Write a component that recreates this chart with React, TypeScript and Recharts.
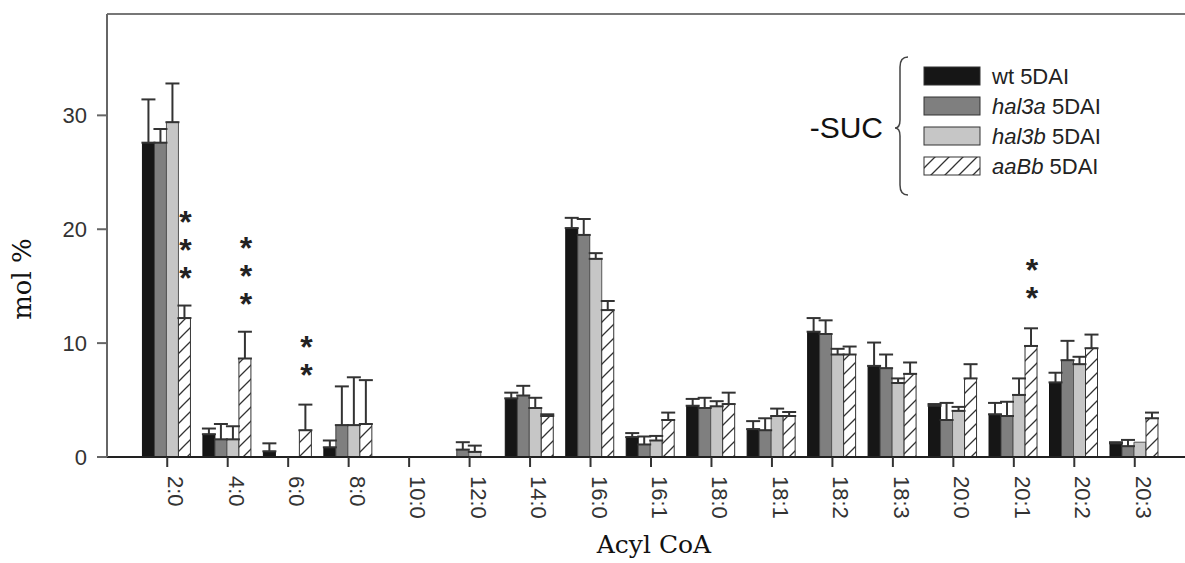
import React from 'react';
import { BarChart, Bar, XAxis, YAxis, ErrorBar, LabelList, Legend, ReferenceLine, Label } from 'recharts';

const categories = ['2:0', '4:0', '6:0', '8:0', '10:0', '12:0', '14:0', '16:0', '16:1', '18:0', '18:1', '18:2', '18:3', '20:0', '20:1', '20:2', '20:3'];
const wtValues = [27.6, 2.0, 0.5, 0.85, 0, 0, 5.15, 20.1, 1.75, 4.5, 2.45, 11.0, 8.0, 4.5, 3.75, 6.55, 1.2];
const wtErrors = [3.8, 0.5, 0.7, 0.6, 0, 0, 0.5, 0.9, 0.35, 0.6, 0.7, 1.2, 2.05, 0.15, 1.0, 0.85, 0.1];
const hal3aValues = [27.6, 1.55, 0, 2.8, 0, 0.65, 5.4, 19.5, 1.1, 4.3, 2.35, 10.8, 7.8, 3.25, 3.6, 8.5, 0.95];
const hal3aErrors = [1.2, 1.35, 0, 3.4, 0, 0.65, 0.85, 1.4, 0.7, 0.9, 1.05, 1.2, 1.2, 1.5, 1.25, 1.7, 0.55];
const hal3bValues = [29.4, 1.55, 0, 2.8, 0, 0.45, 4.3, 17.4, 1.45, 4.45, 3.6, 9.0, 6.5, 4.05, 5.45, 8.15, 1.3];
const hal3bErrors = [3.4, 1.15, 0, 4.2, 0, 0.55, 0.9, 0.5, 0.4, 0.45, 0.65, 0.5, 0.4, 0.35, 1.45, 0.65, 0];
const aaBbValues = [12.2, 8.65, 2.35, 2.9, 0, 0, 3.6, 12.9, 3.25, 4.65, 3.6, 9.0, 7.3, 6.9, 9.75, 9.55, 3.4];
const aaBbErrors = [1.1, 2.35, 2.25, 3.85, 0, 0, 0.15, 0.8, 0.65, 1.0, 0.35, 0.7, 1.0, 1.25, 1.55, 1.2, 0.5];
const significanceStars = [3, 3, 2, 0, 0, 0, 0, 0, 0, 0, 0, 0, 0, 0, 2, 0, 0];
const yTicks = [0, 10, 20, 30];
const yMax = 38.9;
const seriesLabels = ['wt', 'hal3a', 'hal3b', 'aaBb'];
const seriesItalic = [false, true, true, true];
const seriesSuffix = '5DAI';
const groupLabel = '-SUC';

const SANS = '"Liberation Sans", Arial, Helvetica, sans-serif';
const SERIF = '"DejaVu Serif", "Liberation Serif", serif';

const errPair = (e: number) => (e > 0 ? [0, e] : null);

const data = categories.map((cat, i) => ({
  cat,
  wt: wtValues[i],
  wtE: errPair(wtErrors[i]),
  hal3a: hal3aValues[i],
  hal3aE: errPair(hal3aErrors[i]),
  hal3b: hal3bValues[i],
  hal3bE: errPair(hal3bErrors[i]),
  aaBb: aaBbValues[i],
  aaBbE: errPair(aaBbErrors[i]),
}));

const XTick = (props: any) => {
  const { x, y, payload } = props;
  return (
    <g transform={`translate(${x},${y})`}>
      <text
        transform="rotate(90)"
        x={7}
        y={-1}
        textAnchor="start"
        fontSize={22}
        fontFamily={SANS}
        fill="#333"
      >
        {payload.value}
      </text>
    </g>
  );
};

const STAR_FONT = 32;
const STAR_STEP = 26;

const StarLabel = (props: any) => {
  const vb = props.viewBox && props.viewBox.width !== undefined ? props.viewBox : props;
  const { x, y, width, height } = vb;
  const index = categories.indexOf(String(props.value));
  if (index < 0) return null;
  const count = significanceStars[index] || 0;
  if (!count) return null;
  const v = aaBbValues[index];
  const e = aaBbErrors[index];
  const h = Math.abs(height);
  const top = Math.min(y, y + height);
  const pxPerUnit = h / v;
  const errTop = top - e * pxPerUnit;
  const cx = x + width / 2 + 1;
  const lowestCenter = errTop - 34;
  const firstCenter = lowestCenter - STAR_STEP * (count - 1);
  const stars = '*'.repeat(count);
  return (
    <text
      x={cx}
      y={firstCenter - 16}
      fontSize={STAR_FONT}
      fontWeight="bold"
      fontFamily={SANS}
      fill="#222"
      style={{ writingMode: 'vertical-rl', textOrientation: 'upright', letterSpacing: `${STAR_STEP - STAR_FONT - 2}px` } as any}
    >
      {stars}
    </text>
  );
};

const YLabel = (props: any) => {
  const vb = props.viewBox || { x: 0, y: 14, width: 107, height: 443 };
  const cx = vb.x + 31;
  const cy = vb.y + 265;
  return (
    <text
      transform={`rotate(-90, ${cx}, ${cy})`}
      x={cx}
      y={cy}
      textAnchor="middle"
      fontSize={26}
      fontFamily={SERIF}
      fill="#111"
    >
      mol %
    </text>
  );
};

const XLabel = (props: any) => {
  const vb = props.viewBox || { x: 107, y: 457, width: 1078, height: 106 };
  return (
    <text
      x={vb.x + vb.width / 2 + 8}
      y={vb.y + 96}
      textAnchor="middle"
      fontSize={25}
      fontFamily={SERIF}
      fill="#111"
    >
      Acyl CoA
    </text>
  );
};

const LegendContent = (props: any) => {
  const payload = [...(props.payload || [])].map((entry: any) => {
    const label: string = String(entry.value || '');
    const parts = label.split(' ');
    return { entry, first: parts[0], rest: parts.slice(1).join(' '), order: seriesLabels.indexOf(parts[0]) };
  });
  payload.sort((a, b) => a.order - b.order);
  return (
    <svg width={385} height={170} style={{ display: 'block', overflow: 'visible' }}>
      <defs>
        <pattern id="hatchLegend" patternUnits="userSpaceOnUse" width={14} height={14}>
          <rect width={14} height={14} fill="#fff" />
          <path d="M0,14 L14,0 M-3.5,3.5 L3.5,-3.5 M10.5,17.5 L17.5,10.5" stroke="#333" strokeWidth={1.3} />
        </pattern>
      </defs>
      <text x={83} y={98} textAnchor="end" fontSize={30} fontFamily={SANS} fill="#111">
        {groupLabel}
      </text>
      <path
        d="M108,17 Q100,17 100,27 L100,80 Q100,88 95,88 Q100,88 100,96 L100,145 Q100,155 108,155"
        stroke="#444"
        strokeWidth={1.5}
        fill="none"
      />
      {payload.map((item, i: number) => {
        const cy = 36 + 30 * i;
        const color: string = item.entry.color || '#000';
        const fill = color.startsWith('url(') ? 'url(#hatchLegend)' : color;
        const italic = item.order >= 0 ? seriesItalic[item.order] : false;
        return (
          <g key={i}>
            <rect x={124} y={cy - 9} width={56} height={18} fill={fill} stroke="#333" strokeWidth={1} />
            <text x={192} y={cy + 8} fontSize={22} fontFamily={SANS} fill="#222">
              <tspan fontStyle={italic ? 'italic' : 'normal'}>{item.first}</tspan>
              <tspan> {item.rest}</tspan>
            </text>
          </g>
        );
      })}
    </svg>
  );
};

export default function App() {
  return (
    <div style={{ position: 'fixed', left: 0, top: 0, width: 1185, height: 563, background: '#fff' }}>
      <BarChart
        width={1185}
        height={563}
        data={data}
        margin={{ top: 14, right: 0, bottom: 0, left: 0 }}
        barCategoryGap="9%"
        barGap={0}
      >
        <defs>
          <pattern id="hatch" patternUnits="userSpaceOnUse" width={14} height={14}>
            <rect width={14} height={14} fill="#fff" />
            <path d="M0,14 L14,0 M-3.5,3.5 L3.5,-3.5 M10.5,17.5 L17.5,10.5" stroke="#333" strokeWidth={1.3} />
          </pattern>
        </defs>
        <XAxis
          dataKey="cat"
          interval={0}
          height={106}
          padding={{ left: 30, right: 20 }}
          tickSize={10}
          axisLine={{ stroke: '#222', strokeWidth: 2 }}
          tickLine={{ stroke: '#333', strokeWidth: 2 }}
          tick={<XTick />}
        >
          <Label content={<XLabel />} />
        </XAxis>
        <YAxis
          domain={[0, yMax]}
          ticks={yTicks}
          width={107}
          tickSize={10}
          tickMargin={10}
          axisLine={{ stroke: '#666', strokeWidth: 2 }}
          tickLine={{ stroke: '#666', strokeWidth: 2 }}
          tick={{ fontSize: 22, fill: '#333', fontFamily: SANS }}
          allowDataOverflow
        >
          <Label content={<YLabel />} />
        </YAxis>
        <ReferenceLine y={yMax} stroke="#777" strokeWidth={2} />
        <Legend
          layout="horizontal"
          verticalAlign="middle"
          align="center"
          wrapperStyle={{ left: 800, top: 40, width: 385, height: 170 }}
          content={<LegendContent />}
        />
        <Bar dataKey="wt" name={`${seriesLabels[0]} ${seriesSuffix}`} fill="#161616" stroke="#111" strokeWidth={1} isAnimationActive={false}>
          <ErrorBar dataKey="wtE" width={7} stroke="#333" strokeWidth={2} direction="y" />
        </Bar>
        <Bar dataKey="hal3a" name={`${seriesLabels[1]} ${seriesSuffix}`} fill="#7f7f7f" stroke="#444" strokeWidth={1} isAnimationActive={false}>
          <ErrorBar dataKey="hal3aE" width={7} stroke="#333" strokeWidth={2} direction="y" />
        </Bar>
        <Bar dataKey="hal3b" name={`${seriesLabels[2]} ${seriesSuffix}`} fill="#c6c6c6" stroke="#555" strokeWidth={1} isAnimationActive={false}>
          <ErrorBar dataKey="hal3bE" width={7} stroke="#333" strokeWidth={2} direction="y" />
        </Bar>
        <Bar dataKey="aaBb" name={`${seriesLabels[3]} ${seriesSuffix}`} fill="url(#hatch)" stroke="#333" strokeWidth={1} isAnimationActive={false}>
          <ErrorBar dataKey="aaBbE" width={7} stroke="#333" strokeWidth={2} direction="y" />
          <LabelList dataKey="cat" content={<StarLabel />} />
        </Bar>
      </BarChart>
    </div>
  );
}
